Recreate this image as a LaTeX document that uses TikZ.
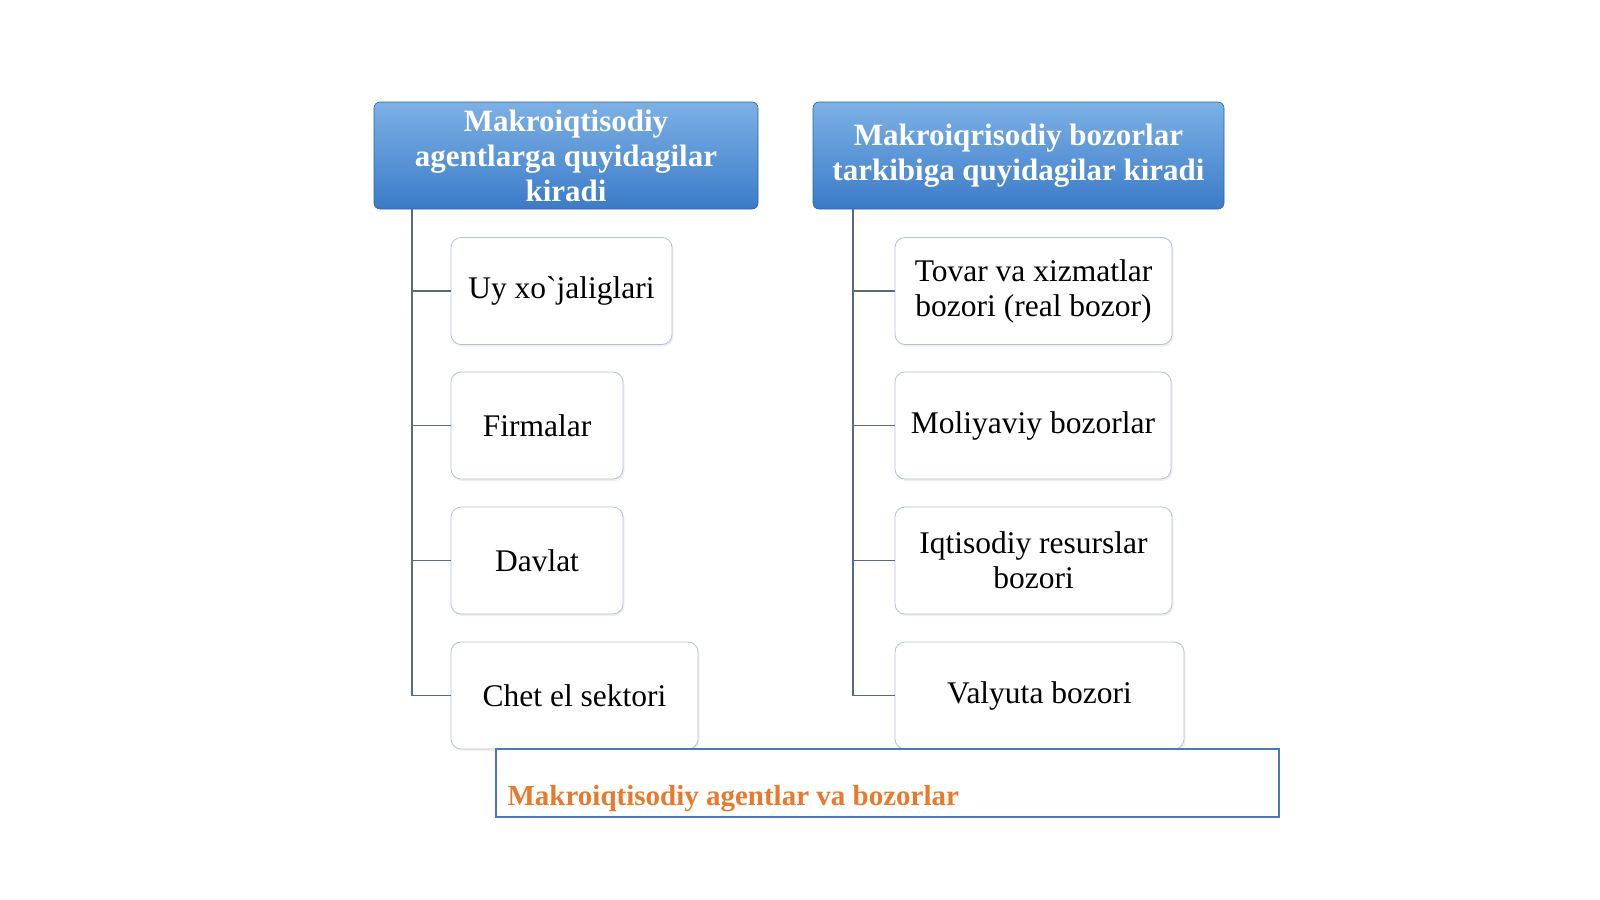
\documentclass[tikz,border=0pt]{standalone}
\usepackage{fontspec}
\setmainfont{Liberation Serif}
\usepackage{tikz}
\usetikzlibrary{positioning, shadows}
\definecolor{hdrtop}{HTML}{7DB1E6}
\definecolor{hdrbot}{HTML}{3A7BC8}
\definecolor{linegray}{HTML}{5B6A7E}
\definecolor{boxedge}{HTML}{B4C2D6}
\definecolor{capedge}{HTML}{4A78C0}
\definecolor{caporange}{HTML}{E97A2C}
\tikzset{
  header/.style={rounded corners=6pt, top color=hdrtop, bottom color=hdrbot, draw=hdrbot!80!black, line width=0.6pt,
    text=white, font=\fontsize{31}{35}\selectfont\bfseries, align=center, inner sep=0pt, minimum height=107pt},
  item/.style={rounded corners=10pt, draw=boxedge, fill=white, line width=0.8pt, align=center, inner sep=0pt,
    font=\fontsize{31.5}{35}\selectfont, minimum height=107pt,
    drop shadow={opacity=0.12, shadow xshift=1.5pt, shadow yshift=-2pt}},
  conn/.style={draw=linegray, line width=1.4pt},
  capbox/.style={draw=capedge, line width=1.2pt, fill=white, inner sep=0pt, minimum width=783pt, minimum height=68pt},
  captxt/.style={text=caporange, font=\fontsize{29}{33}\selectfont\bfseries, inner sep=0pt}
}

\begin{document}
\begin{tikzpicture}[x=1pt, y=-1pt]
\useasboundingbox (0,0) rectangle (1600,899);
% headers
\node[header, minimum width=384pt] (hAgent) at (566,155.5) {Makroiqtisodiy\\agentlarga quyidagilar\\kiradi};
\node[header, minimum width=411pt] (hMarket) at (1018.5,155.5) {Makroiqrisodiy bozorlar\\tarkibiga quyidagilar kiradi};
\coordinate (tAgent) at (412,209);
\coordinate (tMarket) at (853,209);
% agents
\node[item, minimum width=221pt] (uy) at (561.5,291) {Uy xo\textasciigrave jaliglari};
\node[item, minimum width=172pt] (firm) at (537,425.5) {Firmalar};
\node[item, minimum width=172pt] (davlat) at (537,560.5) {Davlat};
\node[item, minimum width=247pt] (chet) at (574.5,695.5) {Chet el sektori};
% markets
\node[item, minimum width=277pt] (tovar) at (1033.5,291) {Tovar va xizmatlar\\bozori (real bozor)};
\node[item, minimum width=276pt] (moliya) at (1033,425.5) {Moliyaviy bozorlar};
\node[item, minimum width=277pt] (resurs) at (1033.5,560.5) {Iqtisodiy resurslar\\bozori};
\node[item, minimum width=289pt] (valyuta) at (1039.5,695.5) {Valyuta bozori};
% connectors
\foreach \c in {uy, firm, davlat, chet}
  \draw[conn] (tAgent) |- (\c.west);
\foreach \c in {tovar, moliya, resurs, valyuta}
  \draw[conn] (tMarket) |- (\c.west);
% caption
\node[capbox] (cbox) at (887.5,783) {};
\node[captxt, anchor=base west] (ctxt) at ([xshift=12pt, yshift=-22pt]cbox.west) {Makroiqtisodiy agentlar va bozorlar};
\end{tikzpicture}
\end{document}
